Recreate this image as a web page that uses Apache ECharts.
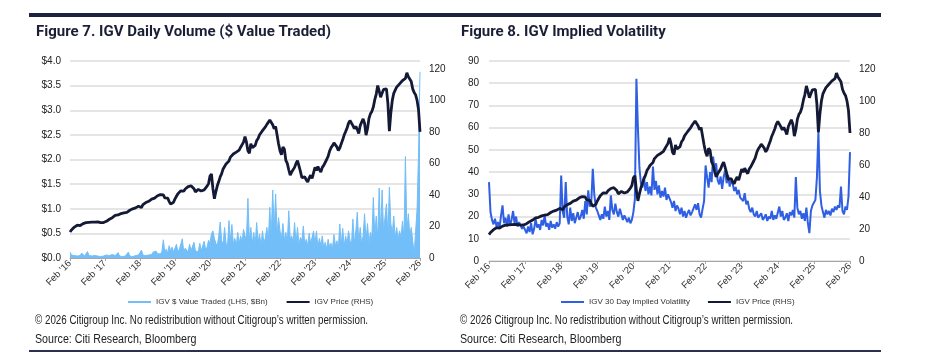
<!DOCTYPE html>
<html>
<head>
<meta charset="utf-8">
<script src="https://cdn.jsdelivr.net/npm/echarts@6/dist/echarts.min.js"></script>
<style>
html,body{margin:0;padding:0;background:#fff;}
#c{width:929px;height:359px;}
</style>
</head>
<body>
<div id="c"></div>
<script>
// Semi-monthly observations, Feb 2016 .. Feb 2026 (241 points)
const priceIGV = [
  16.5,17.8,18.9,19.6,20.3,20.8,21.0,20.6,21.3,21.8,22.0,22.4,22.2,22.6,22.9,22.7,23.0,22.8,22.6,22.9,22.7,22.4,22.6,22.5,
  22.8,23.3,23.9,24.6,25.3,25.6,26.4,27.0,27.5,27.3,27.9,28.2,28.0,28.6,29.1,29.0,29.6,30.3,30.8,31.2,31.0,31.8,32.4,32.9,
  33.4,32.0,33.8,34.5,35.2,35.0,36.0,36.8,37.4,38.2,38.0,38.9,39.5,39.3,40.2,40.6,40.0,38.1,37.2,38.0,35.8,34.2,33.0,35.4,
  37.5,39.2,40.8,41.8,42.6,43.5,42.4,43.8,44.6,45.3,44.2,45.8,46.0,44.0,42.0,42.8,43.5,43.0,42.5,42.0,43.2,44.4,45.6,47.2,
  52.0,53.3,44.0,37.6,42.0,45.8,48.5,51.5,53.5,56.5,58.0,59.7,60.5,61.5,64.0,63.0,66.0,65.5,67.2,66.0,68.5,70.3,71.0,73.5,
  77.0,73.5,68.0,66.5,72.5,70.0,68.8,71.5,74.5,75.8,78.2,79.5,80.8,82.0,83.2,84.8,86.0,87.5,88.3,84.5,82.0,83.5,78.0,72.5,
  68.0,65.5,70.5,69.0,62.0,60.0,56.0,52.5,54.5,53.5,57.5,60.0,61.8,58.5,55.0,51.0,50.2,51.5,49.5,48.2,50.8,52.5,50.5,54.0,
  57.5,55.5,58.0,56.0,54.6,57.5,58.8,60.0,62.5,64.5,67.8,70.0,71.3,73.0,73.8,70.5,68.2,69.8,72.5,75.0,78.0,80.2,82.5,85.5,
  87.2,86.0,84.0,82.0,83.5,81.5,79.0,84.0,86.2,88.3,85.5,78.0,82.0,88.5,91.5,93.0,95.8,100.5,104.0,109.4,106.0,102.0,104.5,107.0,
  106.5,107.3,98.0,80.5,92.0,100.0,104.5,106.5,108.4,109.5,110.5,111.0,112.6,113.5,114.0,117.5,115.0,116.2,112.0,107.3,105.0,103.5,100.0,94.0,
  80.0
];
const valueTraded = [
  0.12,0.06,0.09,0.05,0.07,0.04,0.08,0.05,0.10,0.06,0.04,0.07,0.13,0.05,0.08,0.04,0.06,0.05,0.09,0.04,0.06,0.03,0.05,0.04,
  0.04,0.06,0.03,0.05,0.04,0.07,0.03,0.05,0.04,0.11,0.04,0.05,0.03,0.06,0.04,0.05,0.12,0.04,0.05,0.03,0.04,0.05,0.04,0.06,
  0.07,0.16,0.06,0.09,0.05,0.08,0.06,0.10,0.07,0.12,0.08,0.14,0.09,0.11,0.08,0.13,0.37,0.12,0.18,0.10,0.25,0.14,0.22,0.12,
  0.14,0.28,0.12,0.18,0.15,0.39,0.13,0.20,0.16,0.12,0.28,0.15,0.11,0.32,0.14,0.18,0.13,0.30,0.15,0.12,0.34,0.17,0.22,0.36,
  0.30,0.49,0.55,0.40,0.30,0.25,0.45,0.73,0.35,0.28,0.62,0.30,0.24,0.76,0.35,0.68,0.28,0.40,0.25,0.52,0.30,0.45,0.32,0.58,
  0.45,0.38,1.21,0.35,0.62,0.30,0.52,0.28,0.72,0.33,0.48,0.26,0.55,0.30,0.42,0.62,0.35,1.03,0.45,1.38,0.60,1.30,0.50,0.82,
  0.55,0.40,0.70,0.35,0.52,0.30,0.96,0.38,0.45,0.32,0.72,0.30,0.62,0.27,0.42,0.35,0.65,0.28,0.38,0.25,0.50,0.30,0.42,0.55,
  0.30,0.55,0.22,0.40,0.25,0.45,0.20,0.32,0.18,0.38,0.22,0.30,0.19,0.48,0.25,0.35,0.21,0.69,0.28,0.60,0.24,0.45,0.30,0.55,
  0.35,0.28,0.79,0.30,0.55,0.93,0.32,0.62,0.28,0.45,0.90,0.35,0.70,0.30,0.52,0.40,1.23,0.45,0.85,0.38,1.42,0.50,1.38,0.55,
  0.55,1.10,0.45,1.44,0.70,0.50,0.85,0.40,0.62,0.38,0.55,0.42,0.75,0.40,2.06,0.55,0.90,0.45,0.62,0.35,0.08,0.55,1.00,2.15,
  3.78
];
const impliedVol = [
  35.5,22.0,18.5,16.5,19.0,15.5,17.5,14.8,20.5,25.0,17.0,19.5,15.5,21.0,16.0,18.5,22.5,17.0,20.0,15.5,17.5,16.0,14.5,15.5,
  14.0,12.5,15.5,13.0,17.0,12.0,14.5,19.0,15.0,16.5,14.0,18.5,16.0,20.5,15.5,17.0,14.0,18.0,15.0,16.5,14.5,17.5,15.5,17.0,
  38.5,22.0,19.5,35.5,20.0,16.5,24.0,18.0,21.5,17.0,19.5,22.0,18.5,20.0,23.0,19.0,27.0,21.0,31.8,24.5,26.5,41.5,30.0,24.0,
  22.5,20.5,18.5,21.0,19.0,24.5,20.0,22.5,18.5,29.5,23.0,21.0,25.8,22.0,20.0,23.5,21.0,18.5,20.5,19.0,17.5,19.5,17.0,18.5,
  22.0,28.0,82.0,60.0,42.0,35.0,33.0,38.0,31.5,35.5,30.0,33.5,29.5,42.5,32.0,36.0,30.0,34.0,28.5,31.5,29.0,33.0,27.5,30.0,
  30.0,26.5,24.0,27.0,22.5,25.0,23.5,21.0,24.0,20.0,22.5,19.5,21.5,23.0,20.5,22.0,21.5,25.5,23.0,26.0,21.0,19.5,23.5,27.0,
  43.0,37.5,33.0,40.0,35.5,47.0,41.0,44.0,36.5,34.5,38.0,32.5,37.8,40.8,35.0,38.5,33.5,36.0,34.8,31.5,33.3,30.0,32.0,28.5,
  29.0,27.0,30.5,25.5,27.0,23.5,22.0,24.0,21.0,20.0,22.5,19.5,19.0,21.5,18.5,19.5,21.0,18.0,20.0,19.0,22.5,18.5,20.5,19.0,
  19.5,24.5,20.0,22.5,18.5,19.5,21.5,18.0,22.0,20.5,23.0,19.5,37.8,24.0,21.0,22.5,19.0,21.5,18.0,24.0,17.0,12.5,22.5,25.0,
  25.0,27.5,37.5,58.0,31.5,25.0,22.0,19.5,23.0,21.0,22.5,20.5,23.5,22.0,24.5,23.0,25.0,24.0,33.5,22.5,21.0,24.5,23.0,29.0,
  49.0
];
const yearLabels = ["Feb '16","Feb '17","Feb '18","Feb '19","Feb '20","Feb '21","Feb '22","Feb '23","Feb '24","Feb '25","Feb '26"];
const titles = ["Figure 7. IGV Daily Volume ($ Value Traded)", "Figure 8. IGV Implied Volatility"];
const legendNames = ["IGV $ Value Traded (LHS, $Bn)", "IGV Price (RHS)", "IGV 30 Day Implied Volatility"];
const footer1 = "\u00A9 2026 Citigroup Inc. No redistribution without Citigroup\u2019s written permission.";
const footer2 = "Source: Citi Research, Bloomberg";

// category axis: one slot per half-month
const cats = [];
for (let i = 0; i < priceIGV.length; i++) cats.push(i);

const NAVY = '#141a35', LIGHT = '#72bef8', BLUE = '#2f5fe3';
const sans = '"Liberation Sans",Arial,sans-serif';

function xAxis(gi) {
  return {
    type: 'category', gridIndex: gi, data: cats, boundaryGap: false,
    axisLine: {show: true, lineStyle: {color: '#a6a6a6', width: 1}},
    axisTick: {show: true, length: 3, interval: (i) => i % 24 === 0, lineStyle: {color: '#a6a6a6'}},
    axisLabel: {
      interval: (i) => i % 24 === 0, rotate: 45, margin: 4,
      fontFamily: sans, fontSize: 9.5, color: '#333',
      formatter: (v) => yearLabels[Math.round(v / 24)]
    },
    splitLine: {show: false}
  };
}
const labelStyle = {fontFamily: sans, fontSize: 10, color: '#222'};

function txt(x, y, s, sx, font) {
  return {type: 'text', x: x, y: y, scaleX: sx, silent: true,
    style: {text: s, font: font, fill: '#222', textVerticalAlign: 'top', textAlign: 'left'}};
}

const chart = echarts.init(document.getElementById('c'), null, {renderer: 'canvas'});
chart.setOption({
  animation: false,
  backgroundColor: '#fff',
  title: [
    {text: titles[0], left: 36, top: 25, padding: 0, textStyle: {fontFamily: 'Roboto', fontWeight: 'bold', fontSize: 15, color: '#1a1f36'}},
    {text: titles[1], left: 461, top: 25, padding: 0, textStyle: {fontFamily: 'Roboto', fontWeight: 'bold', fontSize: 15, color: '#1a1f36'}}
  ],
  grid: [
    {left: 70, right: 509, top: 61, bottom: 101, containLabel: false},
    {left: 489, right: 79, top: 61, bottom: 98, containLabel: false}
  ],
  legend: [
    {data: [legendNames[0], legendNames[1]], left: 128, top: 298, padding: 0, icon: 'rect', itemWidth: 23, itemHeight: 2, itemGap: 19,
     textStyle: {fontFamily: sans, fontSize: 8, color: '#333'}},
    {data: [legendNames[2], legendNames[1]], left: 561, top: 298, padding: 0, icon: 'rect', itemWidth: 23, itemHeight: 2, itemGap: 18,
     textStyle: {fontFamily: sans, fontSize: 8, color: '#333'}}
  ],
  xAxis: [xAxis(0), xAxis(1)],
  yAxis: [
    {type: 'value', gridIndex: 0, min: 0, max: 4, interval: 0.5,
     axisLine: {show: false}, axisTick: {show: false},
     axisLabel: Object.assign({formatter: (v) => '$' + v.toFixed(1), margin: 9}, labelStyle),
     splitLine: {lineStyle: {color: '#dcdcdc', width: 1.5}}},
    {type: 'value', gridIndex: 0, position: 'right', min: 0, max: 125, interval: 20,
     axisLine: {show: false}, axisTick: {show: false},
     axisLabel: Object.assign({showMaxLabel: false, margin: 9}, labelStyle),
     splitLine: {show: false}},
    {type: 'value', gridIndex: 1, min: 0, max: 90, interval: 10,
     axisLine: {show: false}, axisTick: {show: false},
     axisLabel: Object.assign({margin: 10}, labelStyle),
     splitLine: {lineStyle: {color: '#dcdcdc', width: 1.5}}},
    {type: 'value', gridIndex: 1, position: 'right', min: 0, max: 125, interval: 20,
     axisLine: {show: false}, axisTick: {show: false},
     axisLabel: Object.assign({showMaxLabel: false, margin: 9}, labelStyle),
     splitLine: {show: false}}
  ],
  series: [
    {name: legendNames[0], type: 'line', xAxisIndex: 0, yAxisIndex: 0, data: valueTraded, symbol: 'none',
     lineStyle: {color: LIGHT, width: 1}, itemStyle: {color: LIGHT}, areaStyle: {color: LIGHT, opacity: 1}, z: 2},
    {name: legendNames[1], type: 'line', xAxisIndex: 0, yAxisIndex: 1, data: priceIGV, symbol: 'none',
     lineStyle: {color: NAVY, width: 2.8}, itemStyle: {color: NAVY}, z: 3},
    {name: legendNames[2], type: 'line', xAxisIndex: 1, yAxisIndex: 2, data: impliedVol, symbol: 'none',
     lineStyle: {color: BLUE, width: 2}, itemStyle: {color: BLUE}, z: 2},
    {name: legendNames[1], type: 'line', xAxisIndex: 1, yAxisIndex: 3, data: priceIGV, symbol: 'none',
     lineStyle: {color: NAVY, width: 2.8}, itemStyle: {color: NAVY}, z: 3}
  ],
  graphic: [
    {type: 'rect', left: 29, top: 13, shape: {width: 852, height: 4}, style: {fill: '#1c2340'}},
    {type: 'rect', left: 29, top: 350, shape: {width: 852, height: 2}, style: {fill: '#2a3150'}},
    txt(35, 315, footer1, 0.816, '12px ' + sans),
    txt(35, 334, footer2, 0.89, '12px ' + sans),
    txt(460, 315, footer1, 0.816, '12px ' + sans),
    txt(460, 334, footer2, 0.89, '12px ' + sans)
  ]
});
</script>
</body>
</html>
